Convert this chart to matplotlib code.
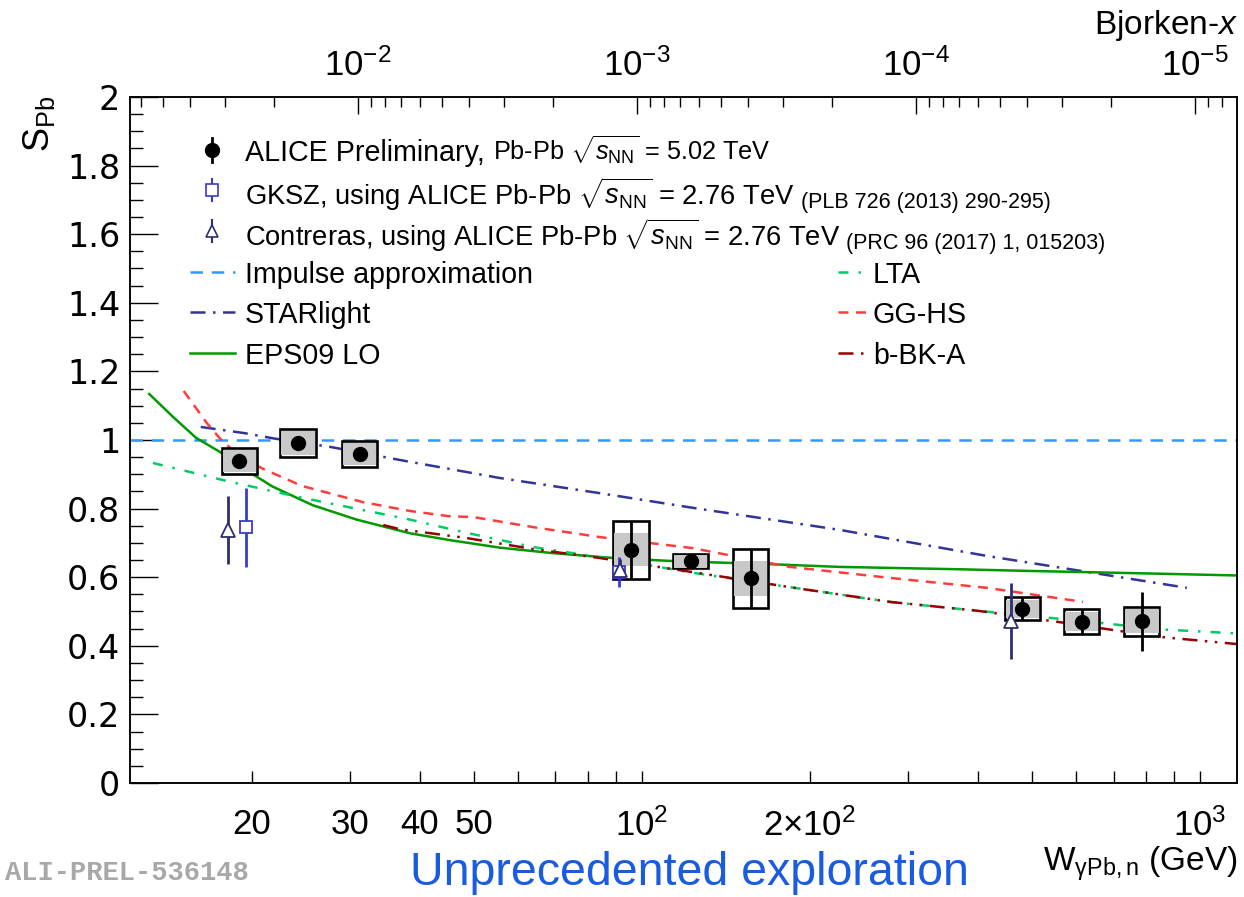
import matplotlib
matplotlib.use('Agg')
import matplotlib.pyplot as plt
from matplotlib.patches import Rectangle
from matplotlib.lines import Line2D
import numpy as np

plt.rcParams['font.family'] = ['Liberation Sans', 'DejaVu Sans']
plt.rcParams['mathtext.fontset'] = 'custom'
plt.rcParams['mathtext.rm'] = 'Liberation Sans'
plt.rcParams['mathtext.it'] = 'Liberation Sans:italic'
plt.rcParams['mathtext.bf'] = 'Liberation Sans:bold'

M_JPSI = 3.097  # GeV, for Bjorken-x = (M/W)^2

# ALICE preliminary, Pb-Pb 5.02 TeV
alice_w = [19.0, 24.2, 31.2, 95.6, 122.4, 156.8, 480.0, 614.0, 787.0]
alice_s = [0.939, 0.991, 0.959, 0.680, 0.647, 0.597, 0.508, 0.470, 0.471]
alice_stat = [0.015, 0.015, 0.015, 0.085, 0.02, 0.086, 0.034, 0.036, 0.085]
alice_sys = [0.038, 0.041, 0.038, 0.085, 0.021, 0.086, 0.034, 0.037, 0.042]
alice_sys_unc = [0.031, 0.034, 0.031, 0.048, 0.019, 0.051, 0.026, 0.028, 0.035]

# GKSZ and Contreras (ALICE Pb-Pb 2.76 TeV)
gksz_w = [19.5, 90.9]
gksz_s = [0.746, 0.615]
gksz_err = [0.115, 0.044]
contreras_w = [18.1, 91.5, 458.0]
contreras_s = [0.738, 0.622, 0.472]
contreras_err = [0.100, 0.030, 0.111]

# model curves
eps09_w = [13.1, 14.5, 15.9, 17.5, 19.4, 21.8, 25.7, 30.8, 38.4, 45.3, 55.7, 68.4, 88.7, 113.6, 169, 226, 372, 500, 800, 1165]
eps09_s = [1.134, 1.065, 1.006, 0.966, 0.915, 0.864, 0.810, 0.768, 0.728, 0.708, 0.686, 0.671, 0.656, 0.647, 0.638, 0.630, 0.623, 0.618, 0.611, 0.605]

starlight_w = [16.2, 19.4, 21.8, 27.6, 37.9, 55.7, 84, 127, 226, 415, 947]
starlight_s = [1.038, 1.020, 1.005, 0.980, 0.938, 0.889, 0.845, 0.799, 0.738, 0.662, 0.569]

lta_w = [13.3, 18.3, 24.7, 37.9, 48.6, 63.8, 84, 104.6, 122, 184, 278, 400, 643, 847, 1165]
lta_s = [0.933, 0.878, 0.831, 0.770, 0.729, 0.688, 0.658, 0.633, 0.614, 0.571, 0.528, 0.502, 0.469, 0.448, 0.436]

ggh_w = [15.1, 16.6, 17.5, 19.0, 21.0, 24.6, 31.6, 38.4, 45.0, 50.0, 63.8, 84, 123, 184, 278, 415, 617]
ggh_s = [1.143, 1.05, 1.006, 0.952, 0.915, 0.866, 0.819, 0.793, 0.778, 0.775, 0.746, 0.717, 0.685, 0.630, 0.598, 0.569, 0.528]

bbk_w = [34.4, 36.8, 48.6, 63.8, 84, 123, 184, 278, 400, 560, 847, 1165]
bbk_s = [0.752, 0.740, 0.714, 0.682, 0.656, 0.615, 0.571, 0.528, 0.502, 0.469, 0.426, 0.405]

x_major = [100, 1000]
x_major_labels = ['$10^{2}$', '$10^{3}$']
x_minor = [20, 30, 40, 50, 60, 70, 80, 90, 200, 300, 400, 500, 600, 700, 800, 900]
x_minor_labels = ['20', '30', '40', '50', '', '', '', '', r'2$\times$$10^{2}$', '', '', '', '', '', '', '']

y_ticks = [0, 0.2, 0.4, 0.6, 0.8, 1.0, 1.2, 1.4, 1.6, 1.8, 2.0]
y_labels = ['0', '0.2', '0.4', '0.6', '0.8', '1', '1.2', '1.4', '1.6', '1.8', '2']

bj_major = [1e-2, 1e-3, 1e-4, 1e-5]
bj_labels = ['$10^{-2}$', '$10^{-3}$', '$10^{-4}$', '$10^{-5}$']

c_imp = '#3399ff'
c_star = '#333399'
c_eps = '#009900'
c_lta = '#00cc66'
c_ggh = '#ff3c3c'
c_bbk = '#990000'
c_gksz = '#3a3ad0'
c_con = '#2e2e70'

fig = plt.figure(figsize=(12.44, 8.97), dpi=100)
ax = fig.add_axes([0.1045, 0.1271, 0.8899, 0.7648])
ax.set_xscale('log')
ax.set_xlim(12.1, 1165)
ax.set_ylim(0, 2)

lw = 1.8
ax.axhline(1.0, color=c_imp, lw=lw, dashes=(5, 3.5), zorder=2)
ax.plot(starlight_w, starlight_s, color=c_star, lw=lw, dashes=(6, 3, 1, 3), zorder=2)
ax.plot(eps09_w, eps09_s, color=c_eps, lw=lw, zorder=2)
ax.plot(lta_w, lta_s, color=c_lta, lw=lw, dashes=(4, 4, 1, 4), zorder=2)
ax.plot(ggh_w, ggh_s, color=c_ggh, lw=lw, dashes=(4, 3), zorder=2)
ax.plot(bbk_w, bbk_s, color=c_bbk, lw=lw, dashes=(6, 3, 1, 3, 1, 3), zorder=2)

# systematic boxes, constant width in log(W)
half = 1.075
for w, s, sy, su in zip(alice_w, alice_s, alice_sys, alice_sys_unc):
    ax.add_patch(Rectangle((w / half, s - sy), w * half - w / half, 2 * sy,
                           facecolor='white', edgecolor='black', lw=1.9, zorder=3))
    ax.add_patch(Rectangle((w / half * 1.004, s - su), w * half / 1.004 - w / half * 1.004, 2 * su,
                           facecolor='#c8c8c8', edgecolor='none', zorder=3.1))
ax.errorbar(alice_w, alice_s, yerr=alice_stat, fmt='o', color='black', ms=10,
            elinewidth=2, capsize=0, zorder=4)
ax.errorbar(gksz_w, gksz_s, yerr=gksz_err, fmt='s', color=c_gksz, mfc='white', ms=9,
            mew=1.3, elinewidth=2, capsize=0, zorder=5)
ax.errorbar(contreras_w, contreras_s, yerr=contreras_err, fmt='^', color=c_con, mfc='white',
            ms=10, mew=1.3, elinewidth=2, capsize=0, zorder=5)

# axes styling
for sp in ax.spines.values():
    sp.set_linewidth(1.1)
ax.set_xticks(x_major, x_major_labels)
ax.set_xticks(x_minor, x_minor_labels, minor=True)
ax.tick_params(axis='x', which='both', direction='in', top=False, length=9, width=1,
               pad=18, labelsize=25)
ax.set_yticks(y_ticks, y_labels, fontfamily='DejaVu Sans')
ax.set_yticks(np.arange(0, 2.01, 0.05), minor=True)
ax.tick_params(axis='y', which='major', direction='in', length=20, width=1, labelsize=24, pad=7)
ax.tick_params(axis='y', which='minor', direction='in', length=9.5, width=1)
ax.tick_params(axis='y', right=False, which='both')

ax2 = ax.twiny()
ax2.set_xscale('log')
ax2.set_xlim(ax.get_xlim())
bj_minor = [m * 10.0 ** k for k in range(-6, -1) for m in range(2, 10)]
bj_minor_w = [M_JPSI / np.sqrt(v) for v in bj_minor]
bj_minor_w = [w for w in bj_minor_w if 12.1 < w < 1165]
ax2.set_xticks([M_JPSI / np.sqrt(b) for b in bj_major], bj_labels)
ax2.set_xticks(bj_minor_w, [''] * len(bj_minor_w), minor=True)
ax2.tick_params(axis='x', which='major', direction='in', length=12, width=1, labelsize=25, pad=10)
ax2.tick_params(axis='x', which='minor', direction='in', length=7, width=1)
for sp in ax2.spines.values():
    sp.set_linewidth(1.1)

# axis titles
fig.text(0.995, 0.972, 'Bjorken-$x$', ha='right', va='center', fontsize=24)
fig.text(0.995, 0.037, r'W$_{\rm γPb,n}$ (GeV)', ha='right', va='center', fontsize=24)
fig.text(0.031, 0.893, r'S$_{\rm Pb}$', rotation=90, ha='center', va='top', fontsize=26)
fig.text(0.554, 0.027, 'Unprecedented exploration', ha='center', va='center',
         fontsize=33.5, color='#1a5ce0')
fig.text(0.004, 0.027, 'ALI-PREL-536148', ha='left', va='center', fontsize=19.5,
         family='Liberation Mono', weight='bold', color='#a8a8a8')

# legend drawn by hand
rows = [0.9227, 0.8644, 0.8047, 0.7449, 0.6866, 0.6268]
mx = 0.0741
tx = 0.1039
fs1 = 20.6
fs2 = 19.7
ax.plot([mx, mx], [rows[0] - 0.018, rows[0] + 0.018], color='black', lw=2, transform=ax.transAxes, clip_on=False)
ax.plot([mx], [rows[0]], 'o', color='black', ms=10, transform=ax.transAxes, clip_on=False)
ax.plot([mx, mx], [rows[1] - 0.016, rows[1] + 0.016], color=c_gksz, lw=1.5, transform=ax.transAxes, clip_on=False)
ax.plot([mx], [rows[1]], 's', color=c_gksz, mfc='white', ms=8, mew=1.2, transform=ax.transAxes, clip_on=False)
ax.plot([mx, mx], [rows[2] - 0.016, rows[2] + 0.016], color=c_con, lw=1.5, transform=ax.transAxes, clip_on=False)
ax.plot([mx], [rows[2]], '^', color=c_con, mfc='white', ms=9, mew=1.2, transform=ax.transAxes, clip_on=False)

t1 = ax.text(tx, rows[0], 'ALICE Preliminary, ', transform=ax.transAxes, fontsize=fs1, va='center_baseline')
ax.annotate(r'Pb-Pb $\sqrt{s_{\rm NN}}$ = 5.02 TeV', xy=(1, 0), xycoords=t1, va='bottom', fontsize=18.2)
refs = [
    (r'GKSZ, using ALICE Pb-Pb $\sqrt{s_{\rm NN}}$ = 2.76 TeV', ' (PLB 726 (2013) 290-295)'),
    (r'Contreras, using ALICE Pb-Pb $\sqrt{s_{\rm NN}}$ = 2.76 TeV', ' (PRC 96 (2017) 1, 015203)'),
]
for (a, c), y in zip(refs, rows[1:3]):
    t = ax.text(tx, y, a, transform=ax.transAxes, fontsize=fs2, va='center_baseline')
    ax.annotate(c, xy=(1, 0), xycoords=t, va='bottom', fontsize=15.5)

left_lines = [('Impulse approximation', c_imp, (5, 3.5)), ('STARlight', c_star, (6, 3, 1, 3)),
              ('EPS09 LO', c_eps, None)]
right_lines = [('LTA', c_lta, (4, 4, 1, 4)), ('GG-HS', c_ggh, (4, 3)), ('b-BK-A', c_bbk, (6, 3, 1, 3, 1, 3))]
for (name, col, d), y in zip(left_lines, rows[3:]):
    ln = Line2D([0.054, 0.095], [y, y], color=col, lw=lw, transform=ax.transAxes, clip_on=False)
    if d:
        ln.set_dashes(d)
    ax.add_line(ln)
    ax.text(tx, y, name, transform=ax.transAxes, fontsize=fs1, va='center_baseline')
for (name, col, d), y in zip(right_lines, rows[3:]):
    ln = Line2D([0.6396, 0.6685], [y, y], color=col, lw=lw, transform=ax.transAxes, clip_on=False)
    ln.set_dashes(d)
    ax.add_line(ln)
    ax.text(0.6710, y, name, transform=ax.transAxes, fontsize=fs1, va='center_baseline')

fig.savefig('out.png', dpi=100)
